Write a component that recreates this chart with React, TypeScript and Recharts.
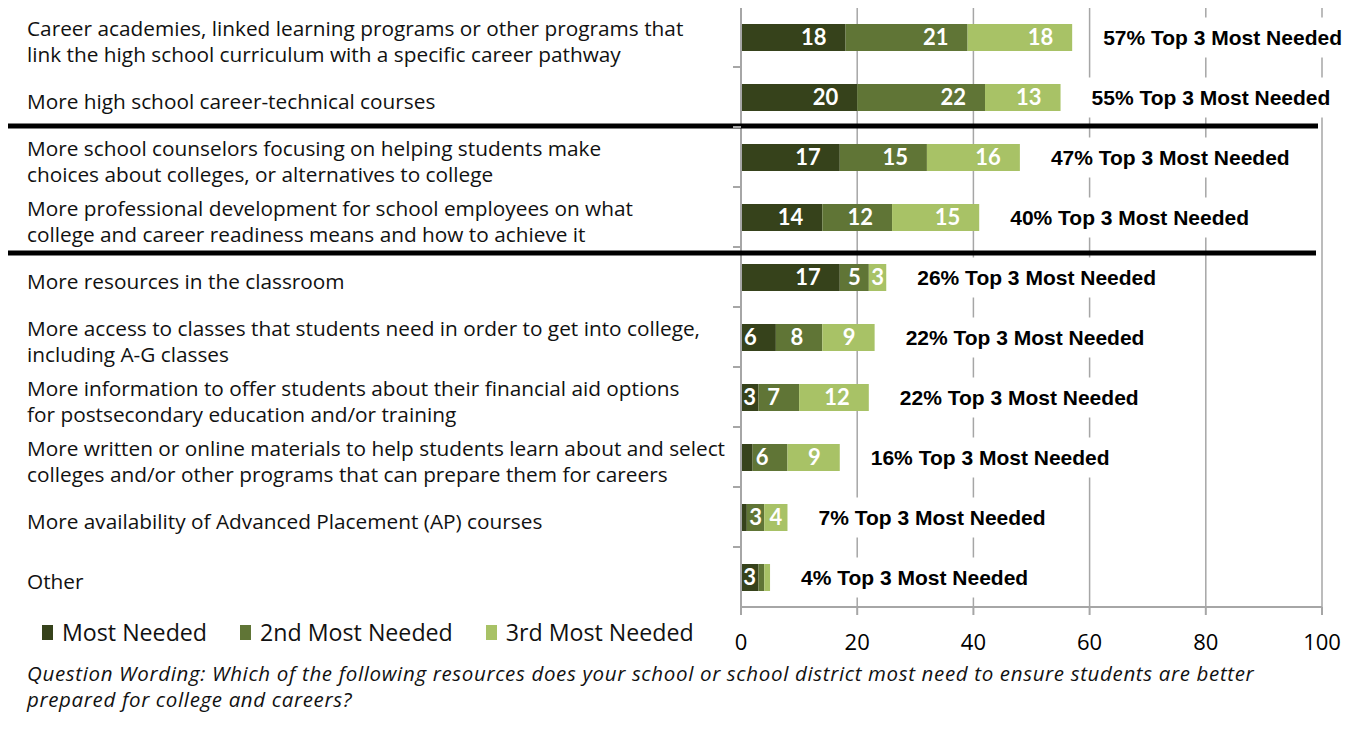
import React from "react";
import { BarChart, Bar, XAxis, YAxis, CartesianGrid, LabelList } from "recharts";

const categories = [
  "Career academies, linked learning programs or other programs that\nlink the high school curriculum with a specific career pathway",
  "More high school career-technical courses",
  "More school counselors focusing on helping students make\nchoices about colleges, or alternatives to college",
  "More professional development for school employees on what\ncollege and career readiness means and how to achieve it",
  "More resources in the classroom",
  "More access to classes that students need in order to get into college,\nincluding A-G classes",
  "More information to offer students about their financial aid options\nfor postsecondary education and/or training",
  "More written or online materials to help students learn about and select\ncolleges and/or other programs that can prepare them for careers",
  "More availability of Advanced Placement (AP) courses",
  "Other",
];
const mostNeeded = [18, 20, 17, 14, 17, 6, 3, 2, 1, 3];
const secondNeeded = [21, 22, 15, 12, 5, 8, 7, 6, 3, 1];
const thirdNeeded = [18, 13, 16, 15, 3, 9, 12, 9, 4, 1];
const top3Totals = [57, 55, 47, 40, 26, 22, 22, 16, 7, 4];
const xTicks = [0, 20, 40, 60, 80, 100];
const seriesNames = ["Most Needed", "2nd Most Needed", "3rd Most Needed"];

const data = categories.map((name, i) => ({
  name,
  most: mostNeeded[i],
  second: secondNeeded[i],
  third: thirdNeeded[i],
}));

const DARK = "#36421b";
const MID = "#607536";
const LIGHT = "#a8c266";
const GRID = "#a6a6a6";
const seriesColors = [DARK, MID, LIGHT];
const FONT = "'Open Sans'";

const W = 1353;
const H = 650;
const AXIS_X = 733;
const X_AXIS_H = 40;
const BOTTOM = 10;
const ROW = (H - X_AXIS_H - BOTTOM) / categories.length;

function CategoryTick(props: any) {
  const { y, payload, index } = props;
  const lines = String(payload.value).split("\n");
  const lh = 26;
  const y0 = y + 5 - ((lines.length - 1) * lh) / 2;
  return (
    <g>
      {index > 0 && (
        <line x1={AXIS_X - 8} x2={AXIS_X} y1={y - ROW / 2} y2={y - ROW / 2} stroke={GRID} strokeWidth={2} />
      )}
      <text fontFamily={FONT} fontSize={20.8} fill="#111">
        {lines.map((l, i) => (
          <tspan key={i} x={19} y={y0 + i * lh} dy="0.35em">
            {l}
          </tspan>
        ))}
      </text>
      {index === 1 && <line x1={-1} x2={1310} y1={y + ROW / 2 - 1} y2={y + ROW / 2 - 1} stroke="#000" strokeWidth={5} />}
      {index === 3 && <line x1={-1} x2={1308} y1={y + ROW / 2 + 6} y2={y + ROW / 2 + 6} stroke="#000" strokeWidth={5} />}
    </g>
  );
}

function SegmentLabel(props: any) {
  const { x, y, width, height, value } = props;
  if (value < 3) return null;
  const centered = width < 30;
  const tx = centered ? x + width / 2 : x + width - 19;
  return (
    <text
      x={tx}
      y={y + height / 2}
      dy="0.36em"
      textAnchor={centered ? "middle" : "end"}
      fill="#fff"
      fontFamily="Lato"
      fontWeight="bold"
      fontSize={22}
    >
      {value}
    </text>
  );
}

function TotalLabel(props: any) {
  const { x, y, width, height, index } = props;
  const tx = x + width + 31;
  const cy = y + height / 2;
  const text = `${top3Totals[index]}% Top 3 Most Needed`;
  const w = text.length * 12 + 16;
  return (
    <g>
      <rect x={tx - 8} y={cy - 20} width={w} height={40} fill="#fff" />
      <text x={tx} y={cy} dy="0.36em" fontFamily="Liberation Sans, Arial" fontWeight="bold" fontSize={21} fill="#000">
        {text}
      </text>
    </g>
  );
}

export default function App() {
  return (
    <div
      style={{
        position: "relative",
        width: 1355,
        height: 725,
        margin: "-2px 0 0 -1px",
        border: "1px solid #bdbdbd",
        boxSizing: "border-box",
        overflow: "hidden",
        background: "#fff",
      }}
    >
      <BarChart
        width={W}
        height={H}
        data={data}
        layout="vertical"
        margin={{ top: 0, right: W - 1314, bottom: BOTTOM, left: 0 }}
        barSize={27}
      >
        <CartesianGrid horizontal={false} stroke={GRID} strokeWidth={1.5} />
        <XAxis
          type="number"
          domain={[0, 100]}
          ticks={xTicks}
          height={X_AXIS_H}
          axisLine={{ stroke: GRID, strokeWidth: 2 }}
          tickLine={{ stroke: GRID, strokeWidth: 2 }}
          tickSize={8}
          tickMargin={19}
          tick={{ fill: "#000", fontSize: 22, fontFamily: FONT }}
        />
        <YAxis
          type="category"
          dataKey="name"
          width={AXIS_X}
          interval={0}
          axisLine={{ stroke: GRID, strokeWidth: 2 }}
          tickLine={false}
          tick={(p: any) => <CategoryTick {...p} />}
        />
        <Bar dataKey="most" name={seriesNames[0]} stackId="a" fill={DARK} isAnimationActive={false}>
          <LabelList dataKey="most" content={<SegmentLabel />} />
        </Bar>
        <Bar dataKey="second" name={seriesNames[1]} stackId="a" fill={MID} isAnimationActive={false}>
          <LabelList dataKey="second" content={<SegmentLabel />} />
        </Bar>
        <Bar dataKey="third" name={seriesNames[2]} stackId="a" fill={LIGHT} isAnimationActive={false}>
          <LabelList dataKey="third" content={<SegmentLabel />} />
          <LabelList dataKey="third" content={<TotalLabel />} />
        </Bar>
      </BarChart>
      <div
        style={{
          position: "absolute",
          left: 34,
          top: 610,
          display: "flex",
          alignItems: "center",
          fontFamily: FONT,
          fontSize: 23.2,
          lineHeight: "30px",
          color: "#111",
        }}
      >
        {seriesNames.map((n, i) => (
          <div key={n} style={{ display: "flex", alignItems: "center", marginRight: 33 }}>
            <span style={{ display: "inline-block", width: 11, height: 15, background: seriesColors[i], marginRight: 9 }} />
            <span>{n}</span>
          </div>
        ))}
      </div>
      <div
        style={{
          position: "absolute",
          left: 19,
          top: 653,
          width: 1330,
          fontFamily: FONT,
          fontStyle: "italic",
          fontSize: 20.5,
          letterSpacing: 0.65,
          lineHeight: "26px",
          color: "#111",
        }}
      >
        Question Wording: Which of the following resources does your school or school district most need to ensure students are better
        <br />
        prepared for college and careers?
      </div>
    </div>
  );
}
